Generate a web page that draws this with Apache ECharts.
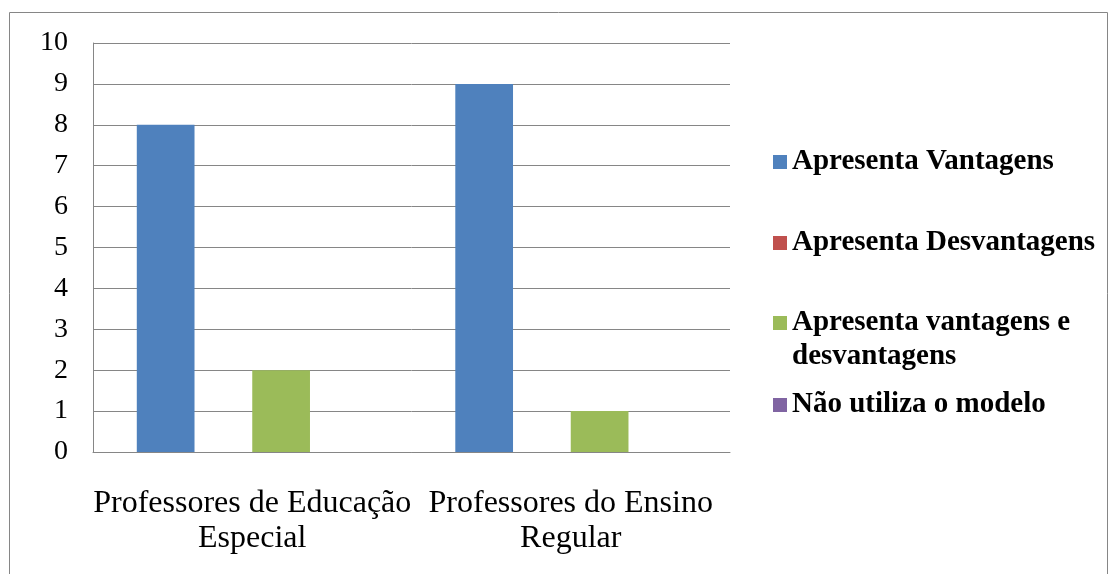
<!DOCTYPE html>
<html>
<head>
<meta charset="utf-8">
<script src="https://cdn.jsdelivr.net/npm/echarts@6/dist/echarts.min.js"></script>
<style>
html,body{margin:0;padding:0;background:#fff;}
#chart{width:1118px;height:574px;}
</style>
</head>
<body>
<div id="chart"></div>
<script>
var categories = ['Professores de Educação\nEspecial', 'Professores do Ensino\nRegular'];
var seriesNames = ['Apresenta Vantagens', 'Apresenta Desvantagens', 'Apresenta vantagens e desvantagens', 'Não utiliza o modelo'];
var vantagens = [8, 9];
var desvantagens = [0, 0];
var ambos = [2, 1];
var naoUtiliza = [0, 0];
var colors = ['#4F81BD', '#C0504D', '#9BBB59', '#8064A2'];
var yTicks = [0, 1, 2, 3, 4, 5, 6, 7, 8, 9, 10];

var chart = echarts.init(document.getElementById('chart'));
var values = [vantagens, desvantagens, ambos, naoUtiliza];
var legendTops = [145, 226, 272, 388];
var serif = '"Liberation Serif", "Times New Roman", serif';
var legendText = {fontFamily: serif, fontWeight: 'bold', fontSize: 29, color: '#000', lineHeight: 34};

var legends = seriesNames.map(function (n, i) {
  return {
    data: [n],
    left: 773,
    top: legendTops[i],
    padding: 0,
    orient: 'vertical',
    itemWidth: 14,
    itemHeight: 14,
    icon: 'rect',
    selectedMode: false,
    textStyle: legendText,
    formatter: function (name) {
      if (name === 'Apresenta vantagens e desvantagens') {
        return ' \nApresenta vantagens e\ndesvantagens';
      }
      return name;
    }
  };
});

chart.setOption({
  animation: false,
  color: colors,
  graphic: [{
    type: 'rect',
    shape: {x: 9.5, y: 12.5, width: 1098, height: 600},
    style: {fill: 'none', stroke: '#868686', lineWidth: 1},
    silent: true
  }],
  legend: legends,
  grid: {left: 93, right: 388, top: 43, bottom: 122},
  xAxis: {
    type: 'category',
    data: categories,
    axisLine: {show: true, lineStyle: {color: '#868686', width: 1}},
    axisTick: {show: false},
    axisLabel: {
      interval: 0,
      margin: 34,
      fontFamily: serif,
      fontSize: 32,
      lineHeight: 35,
      color: '#000'
    }
  },
  yAxis: {
    type: 'value',
    min: 0,
    max: 10,
    interval: 1,
    axisLine: {show: true, lineStyle: {color: '#868686', width: 1}},
    axisTick: {show: false},
    splitLine: {show: true, lineStyle: {color: '#868686', width: 1}},
    axisLabel: {
      margin: 25,
      fontFamily: serif,
      fontSize: 28,
      color: '#000',
      formatter: function (v) { return yTicks.indexOf(v) >= 0 ? String(v) : ''; }
    }
  },
  series: seriesNames.map(function (n, i) {
    return {
      name: n,
      type: 'bar',
      data: values[i],
      barGap: '0%',
      barCategoryGap: '27.5%',
      itemStyle: {color: colors[i]}
    };
  })
});
</script>
</body>
</html>
